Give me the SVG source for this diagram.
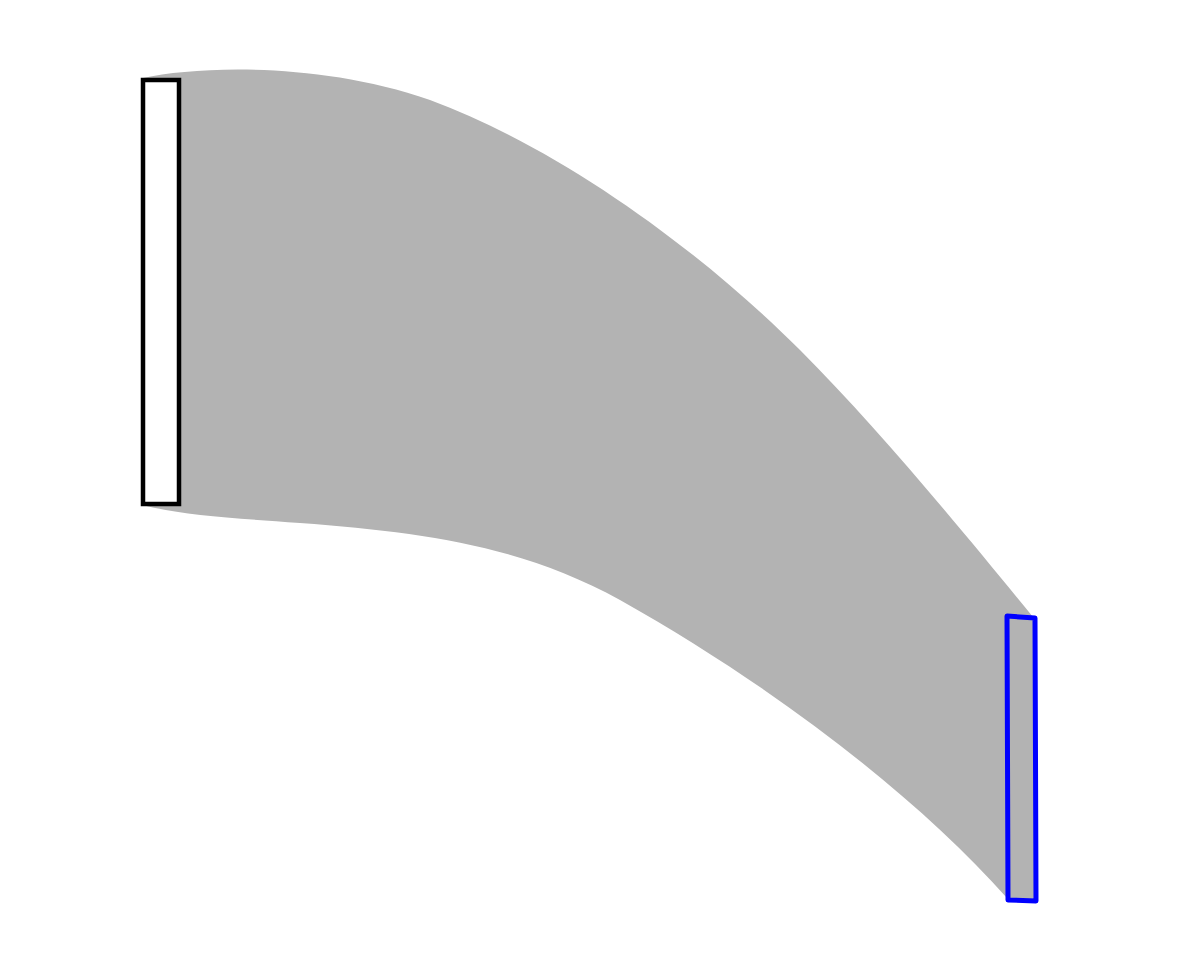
<svg xmlns="http://www.w3.org/2000/svg" width="1177" height="980" viewBox="0 0 1177 980">
<style>
.band{fill:#b3b3b3;stroke:none}
.src{fill:#ffffff;stroke:#000000;stroke-width:4.5}
.dst{fill:#b3b3b3;stroke:#0000ff;stroke-width:5;stroke-linejoin:round}
</style>
<rect width="1177" height="980" fill="#ffffff"/>
<g id="connectors">
<path class="band" d="M143,78 C200,66 320,62 430,100 C560,148 700,250 800,350 C880,430 970,540 1033,617 L1007,898 C920,800 780,690 620,600 C520,545 420,532 300,523 C230,518 180,515 143,505 Z"/>
</g>
<g id="node-source">
<rect class="src" x="143" y="80" width="36" height="424"/>
</g>
<g id="node-target">
<polygon class="dst" points="1007,616 1035,618 1036,901 1008,900"/>
</g>
</svg>
